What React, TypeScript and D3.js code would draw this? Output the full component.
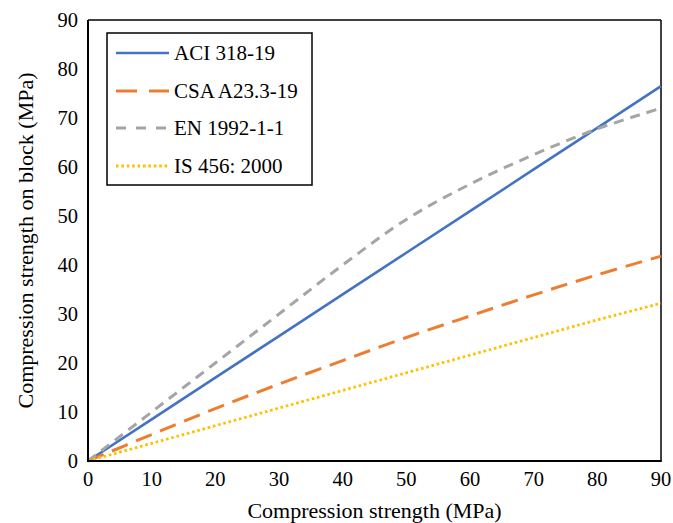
import React from "react";
import * as d3 from "d3";

const strengths = [0, 10, 20, 30, 40, 50, 60, 70, 80, 90];
const aci = [0, 8.5, 17, 25.5, 34, 42.5, 51, 59.5, 68, 76.5];
const csa = [0, 5.4, 10.7, 15.7, 20.5, 25.2, 29.6, 33.9, 38.0, 41.8];
const en = [0, 10, 20, 30, 40, 49.3, 56.5, 62.5, 67.8, 72];
const is456 = [0, 3.6, 7.2, 10.8, 14.4, 18, 21.6, 25.2, 28.8, 32.2];
const ticks = [0, 10, 20, 30, 40, 50, 60, 70, 80, 90];
const seriesNames = ["ACI 318-19", "CSA A23.3-19", "EN 1992-1-1", "IS 456: 2000"];

const W = 673, H = 523;
const L = 88, R = 661, T = 20, B = 461;

export default function App() {
  const x = d3.scaleLinear().domain([0, 90]).range([L, R]);
  const y = d3.scaleLinear().domain([0, 90]).range([B, T]);
  const styles = [
    { color: "#4472C4", dash: "none", width: 2.6 },
    { color: "#ED7D31", dash: "17,9", width: 3 },
    { color: "#A5A5A5", dash: "10,7", width: 3 },
    { color: "#FFC000", dash: "2.6,2.8", width: 2.8 },
  ];
  const legendDash = ["none", "21,12", "10,10", "2.6,2.8"];
  const data = [aci, csa, en, is456];
  const lineGen = (vals: number[], smooth: boolean) =>
    d3
      .line<number>()
      .x((_, i) => x(strengths[i]))
      .y((d) => y(d))
      .curve(smooth ? d3.curveCatmullRom.alpha(0.5) : d3.curveLinear)(vals) || "";

  const legX = 107, legY = 33, legW = 205, legH = 152;
  const rowY = [53, 91, 128, 166];

  return (
    <div style={{ fontFamily: "Liberation Serif" }}>
      <svg width={W} height={H} style={{ position: "absolute", left: 0, top: 0, background: "#fff" }}>
        <g style={{ fontFamily: "Liberation Serif" }} fontFamily="Liberation Serif">
          <rect x={0} y={0} width={W} height={H} fill="#fff" />
          <line x1={L} y1={T} x2={R} y2={T} stroke="#000" strokeWidth={1.5} />
          <line x1={R} y1={T} x2={R} y2={B} stroke="#000" strokeWidth={1.5} />
          {data.map((vals, i) => (
            <path
              key={i}
              d={lineGen(vals, i === 1 || i === 2)}
              fill="none"
              stroke={styles[i].color}
              strokeWidth={styles[i].width}
              strokeDasharray={styles[i].dash}
            />
          ))}
          <line x1={L} y1={T} x2={L} y2={B + 1} stroke="#000" strokeWidth={2} />
          <line x1={L - 1} y1={B} x2={R + 0.75} y2={B} stroke="#000" strokeWidth={2} />
          {ticks.map((t) => (
            <text key={"x" + t} x={x(t)} y={486} textAnchor="middle" fill="#000" style={{ fontFamily: "Liberation Serif", fontSize: "20.5px" }}>
              {t}
            </text>
          ))}
          {ticks.map((t) => (
            <text key={"y" + t} x={78} y={y(t) + 7} textAnchor="end" fill="#000" style={{ fontFamily: "Liberation Serif", fontSize: "20.5px" }}>
              {t}
            </text>
          ))}
          <text x={(L + R) / 2} y={518} textAnchor="middle" fill="#000" style={{ fontFamily: "Liberation Serif", fontSize: "22px" }}>
            Compression strength (MPa)
          </text>
          <text
            transform={`translate(33, ${(T + B) / 2}) rotate(-90)`}
            textAnchor="middle"
            fill="#000"
            style={{ fontFamily: "Liberation Serif", fontSize: "22px" }}
          >
            Compression strength on block (MPa)
          </text>
          <rect x={legX} y={legY} width={legW} height={legH} fill="#fff" stroke="#000" strokeWidth={1.5} />
          {seriesNames.map((name, i) => (
            <g key={name}>
              <line
                x1={116}
                x2={169}
                y1={rowY[i]}
                y2={rowY[i]}
                stroke={styles[i].color}
                strokeWidth={styles[i].width}
                strokeDasharray={legendDash[i]}
              />
              <text x={174} y={rowY[i] + 7} fill="#000" style={{ fontFamily: "Liberation Serif", fontSize: "21px" }}>
                {name}
              </text>
            </g>
          ))}
        </g>
      </svg>
    </div>
  );
}
